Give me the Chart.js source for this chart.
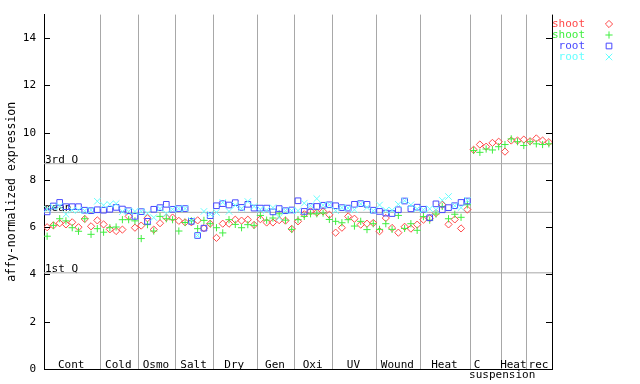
<!DOCTYPE html>
<html><head><meta charset="utf-8">
<script src="https://cdn.jsdelivr.net/npm/chart.js@4/dist/chart.umd.min.js"></script>
<style>html,body{margin:0;padding:0;background:#fff;}#wrap{width:640px;height:384px;position:relative;}</style>
</head><body><div id="wrap"><canvas id="c" width="640" height="384"></canvas></div>
<script>
const categories = ['Cont','Cold','Osmo','Salt','Dry','Gen','Oxi','UV','Wound','Heat','C\nsuspension','Heat','rec'];
const groupSizes = [9,6,6,6,7,6,6,7,7,8,5,4,4];
const yTicks = [0,2,4,6,8,10,12,14];
const quartile3 = 8.69;
const meanValue = 6.63;
const quartile1 = 4.07;
const seriesNames = ['shoot','shoot','root','root'];

const shootRep1 = [6.00,6.08,6.17,6.12,6.21,6.00,6.35,6.04,6.29, 6.12,5.91,5.84,5.90,6.46,5.98, 6.07,6.38,5.90,6.17,6.41,6.41, 6.27,6.21,6.21,6.29,5.96,6.15, 5.55,6.15,6.15,6.32,6.28,6.32,6.10, 6.34,6.20,6.20,6.30,6.28,5.93, 6.25,6.55,6.67,6.62,6.67,6.53, 5.77,5.98,6.46,6.36,6.11,6.15,6.18, 5.83,6.39,5.97,5.77,6.02,5.94,6.11, 6.32,6.38,6.60,6.95,6.12,6.33,5.95,6.75, 9.28,9.50,9.41,9.57,9.62, 9.20,9.67,9.67,9.71, 9.64,9.76,9.67,9.60];
const shootRep2 = [5.62,6.08,6.36,6.27,5.98,5.83,6.36,5.70,5.94, 5.79,5.98,6.01,6.32,6.32,6.27, 5.52,6.11,5.84,6.46,6.36,6.32, 5.84,6.20,6.27,5.94,6.29,6.15, 5.98,5.76,6.32,6.12,5.98,6.11,6.08, 6.50,6.30,6.39,6.57,6.30,5.91, 6.32,6.46,6.57,6.57,6.60,6.33, 6.25,6.19,6.32,6.05,6.25,5.90,6.15, 5.91,6.15,5.91,6.50,5.95,6.15,5.87, 6.45,6.30,6.56,6.88,6.36,6.55,6.42,6.95, 9.25,9.17,9.31,9.27,9.41, 9.50,9.74,9.62,9.46, 9.62,9.53,9.50,9.53];
const rootRep1 = [6.65,6.90,7.05,6.87,6.87,6.87,6.72,6.70,6.74, 6.72,6.76,6.84,6.77,6.70,6.46, 6.66,6.25,6.76,6.83,6.97,6.76, 6.79,6.79,6.25,5.65,5.96,6.49, 6.91,7.00,6.94,7.04,6.84,6.97,6.81, 6.81,6.81,6.65,6.79,6.70,6.73, 7.12,6.67,6.88,6.88,6.93,6.95, 6.91,6.83,6.81,6.97,7.00,6.97,6.72, 6.67,6.60,6.58,6.74,7.11,6.78,6.85, 6.76,6.40,6.99,6.74,6.83,6.91,7.05,7.11, null,null,null,null,null, null,null,null,null, null,null,null,null];
const rootRep2 = [6.77,6.85,6.90,6.55,6.72,6.72,6.70,6.72,7.10, 6.93,6.97,7.00,6.66,6.67,6.67, 6.67,6.59,6.41,6.79,6.58,6.76, 6.79,6.79,6.29,5.65,6.67,6.55, 6.63,7.05,6.67,6.93,6.80,7.09,6.88, 6.76,6.72,6.83,6.41,6.70,6.70, 6.70,7.02,6.91,7.21,6.93,6.95, 6.70,6.83,6.81,6.74,6.99,6.84,6.70, 6.94,6.72,6.72,6.97,7.12,6.95,6.78, 6.74,6.78,6.74,7.14,7.30,6.91,6.83,7.14, null,null,null,null,null, null,null,null,null, null,null,null,null];

const boundaries = [0];
groupSizes.forEach(n => boundaries.push(boundaries[boundaries.length-1] + n));
const nSamples = boundaries[boundaries.length-1];
const toPts = arr => arr.map((v,i) => v == null ? null : {x: i + 0.5, y: v}).filter(p => p);

const FONT = '"DejaVu Sans Mono", "Liberation Mono", monospace';
const COLORS = ['#ff4848', '#40ee40', '#4848ff', '#66ffff'];
const STYLES = [
  {pointStyle: 'rectRot', radius: 3.6},
  {pointStyle: 'cross', radius: 3.6},
  {pointStyle: 'rect', radius: 4.0},
  {pointStyle: 'crossRot', radius: 4.6}
];
const seriesData = [shootRep1, shootRep2, rootRep1, rootRep2];

const datasets = seriesData.map((arr, k) => ({
  type: 'scatter',
  label: seriesNames[k],
  data: toPts(arr),
  pointStyle: STYLES[k].pointStyle,
  pointRadius: STYLES[k].radius,
  pointBorderWidth: 1,
  borderColor: COLORS[k],
  backgroundColor: 'rgba(0,0,0,0)',
  showLine: false,
  order: 4 - k
}));
[quartile3, meanValue, quartile1].forEach(q => {
  datasets.push({
    type: 'line',
    data: [{x: 0, y: q}, {x: nSamples, y: q}],
    borderColor: '#a8a8a8',
    borderWidth: 1,
    pointRadius: 0,
    fill: false,
    order: 10
  });
});

function drawMarker(ctx, style, radius, x, y, color) {
  ctx.save();
  ctx.strokeStyle = color; ctx.fillStyle = 'rgba(0,0,0,0)'; ctx.lineWidth = 1;
  if (Chart.helpers && Chart.helpers.drawPoint) {
    Chart.helpers.drawPoint(ctx, {pointStyle: style, rotation: 0, radius: radius, borderWidth: 1}, x, y);
  }
  ctx.restore();
}

const deco = {
  id: 'deco',
  beforeDatasetsDraw(chart) {
    const {ctx, chartArea: a, scales: {x, y}} = chart;
    ctx.save();
    ctx.strokeStyle = '#000'; ctx.lineWidth = 1;
    ctx.beginPath();
    ctx.moveTo(Math.round(a.right) + 0.5, a.top);
    ctx.lineTo(Math.round(a.right) + 0.5, a.bottom);
    yTicks.forEach(v => {
      const py = Math.round(y.getPixelForValue(v)) + 0.5;
      ctx.moveTo(a.left, py); ctx.lineTo(a.left + 6, py);
      ctx.moveTo(a.right, py); ctx.lineTo(a.right - 6, py);
    });
    ctx.stroke();
    ctx.font = '11px ' + FONT;
    ctx.fillStyle = '#000';
    ctx.textAlign = 'left';
    ctx.textBaseline = 'alphabetic';
    [[quartile3, '3rd Q'], [meanValue, 'mean'], [quartile1, '1st Q']].forEach(([v, t]) => {
      ctx.fillText(t, a.left + 1, Math.round(y.getPixelForValue(v)) - 1);
    });
    ctx.textAlign = 'center';
    categories.forEach((name, gi) => {
      const cx = x.getPixelForValue((boundaries[gi] + boundaries[gi+1]) / 2);
      const lines = name.split('\n');
      if (lines.length === 1) {
        ctx.fillText(lines[0], cx - 1, a.bottom - 1.5);
      } else {
        ctx.fillText(lines[0], cx - 9, a.bottom - 1.5);
        ctx.fillText(lines[1], cx + 16, a.bottom + 9);
      }
    });
    ctx.restore();
  },
  afterDraw(chart) {
    const {ctx, chartArea: a} = chart;
    ctx.save();
    ctx.font = '11px ' + FONT;
    ctx.textAlign = 'right';
    ctx.textBaseline = 'middle';
    seriesNames.forEach((name, k) => {
      const py = 24 + k * 11;
      ctx.fillStyle = COLORS[k];
      ctx.fillText(name, a.right + 33, py);
      drawMarker(ctx, STYLES[k].pointStyle, STYLES[k].radius, a.right + 57, py, COLORS[k]);
    });
    ctx.restore();
  }
};

new Chart(document.getElementById('c'), {
  data: {datasets},
  options: {
    responsive: false,
    animation: false,
    devicePixelRatio: 1,
    layout: {padding: {left: 0, right: 88, top: 14, bottom: 15}},
    plugins: {legend: {display: false}, tooltip: {enabled: false}},
    scales: {
      x: {
        type: 'linear', min: 0, max: nSamples,
        afterBuildTicks: s => { s.ticks = boundaries.slice(1, -1).map(v => ({value: v})); },
        afterFit: s => { s.height = 0; },
        ticks: {display: false},
        grid: {color: '#a8a8a8', lineWidth: 1, drawTicks: false},
        border: {display: true, color: '#000', width: 1}
      },
      y: {
        type: 'linear', min: 0, max: 15,
        afterBuildTicks: s => { s.ticks = yTicks.map(v => ({value: v})); },
        afterFit: s => { s.width = 44; },
        ticks: {color: '#000', font: {family: FONT, size: 11}, padding: 8},
        grid: {display: false, drawTicks: false},
        border: {display: true, color: '#000', width: 1},
        title: {display: true, text: 'affy-normalized expression', color: '#000', font: {family: FONT, size: 11.5}, padding: {top: 5, bottom: 0}}
      }
    }
  },
  plugins: [deco]
});
</script>
</body></html>
